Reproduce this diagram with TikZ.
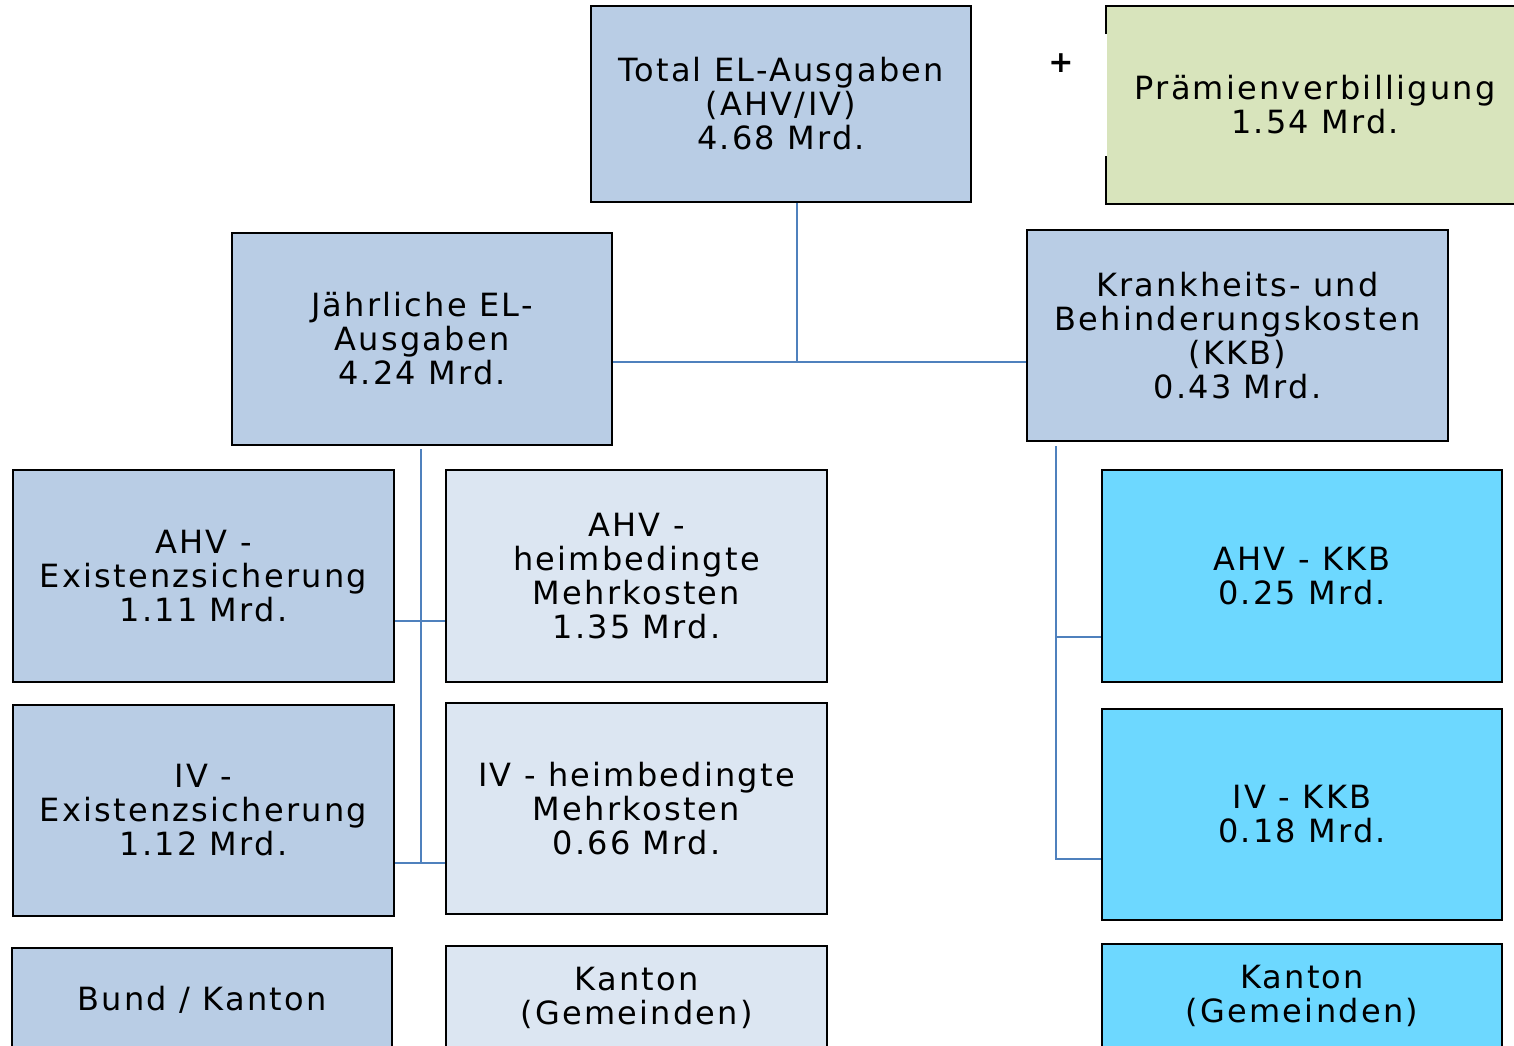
\documentclass[tikz,border=0pt]{standalone}
\usepackage{fontspec}
\usepackage{tikz}
\usetikzlibrary{positioning}
\newfontfamily\boxfont[LetterSpace=7]{DejaVu Sans}
\definecolor{elblue}{HTML}{B9CDE5}
\definecolor{ellight}{HTML}{DCE6F2}
\definecolor{elcyan}{HTML}{6DD8FF}
\definecolor{elgreen}{HTML}{D8E4BC}
\definecolor{elline}{HTML}{4F81BD}

\begin{document}
\begin{tikzpicture}[x=1pt,y=1pt,
 elbox/.style={draw=black,line width=2pt,align=center,inner sep=2pt,
  font=\boxfont\fontsize{32}{34}\selectfont,minimum width=381pt,minimum height=212pt},
 conn/.style={draw=elline,line width=2pt}]
 \useasboundingbox (0,0) rectangle (1514,-1045);
 \node[elbox,fill=elblue,minimum width=380pt,minimum height=196pt] (total) at (781,-104) {Total EL-Ausgaben\\(AHV/IV)\\4.68 Mrd.};
 \node[elbox,fill=elgreen,draw=none,minimum width=416pt,minimum height=196pt] (praemie) at (1315,-105) {Prämienverbilligung\\1.54 Mrd.};
 \draw[line width=2pt] ([yshift=-28pt]praemie.north west) |- (praemie.north east) |- (praemie.south west) -- ([yshift=48pt]praemie.south west);
 \node[font=\boxfont\bfseries\fontsize{30}{34}\selectfont] (plus) at (1061,-63) {+};
 \node[elbox,fill=elblue,minimum width=380pt] (jahr) at (422,-339) {Jährliche EL-\\Ausgaben\\4.24 Mrd.};
 \node[elbox,fill=elblue,minimum width=421pt,minimum height=211pt] (kkb) at (1237.5,-335.5) {Krankheits- und\\Behinderungskosten\\(KKB)\\0.43 Mrd.};
 \node[elbox,fill=elblue] (ahvex) at (203.5,-576) {AHV -\\Existenzsicherung\\1.11 Mrd.};
 \node[elbox,fill=ellight] (ahvheim) at (636.5,-576) {AHV -\\heimbedingte\\Mehrkosten\\1.35 Mrd.};
 \node[elbox,fill=elblue,minimum height=211pt] (ivex) at (203.5,-810.5) {IV -\\Existenzsicherung\\1.12 Mrd.};
 \node[elbox,fill=ellight,minimum height=211pt] (ivheim) at (636.5,-808.5) {IV - heimbedingte\\Mehrkosten\\0.66 Mrd.};
 \node[elbox,fill=elcyan,minimum width=400pt] (ahvkkb) at (1302,-576) {AHV - KKB\\0.25 Mrd.};
 \node[elbox,fill=elcyan,minimum width=400pt,minimum height=211pt] (ivkkb) at (1302,-814.5) {IV - KKB\\0.18 Mrd.};
 \node[elbox,fill=elblue,minimum width=380pt,minimum height=104pt] (bund) at (202,-1000) {Bund / Kanton};
 \node[elbox,fill=ellight,minimum height=104pt] (kanton) at (636.5,-998) {Kanton\\(Gemeinden)};
 \node[elbox,fill=elcyan,minimum width=400pt,minimum height=104pt] (kantonkkb) at (1302,-996) {Kanton\\(Gemeinden)};
 % connectors
 \coordinate (hub) at (797,-362);
 \coordinate (lj1) at (421,-621);
 \coordinate (lj2) at (421,-863);
 \coordinate (rj1) at (1056,-637);
 \coordinate (rj2) at (1056,-859);
 \draw[conn] (hub |- total.south) -- (hub);
 \draw[conn] (jahr.east |- hub) -- (kkb.west |- hub);
 \draw[conn] ([yshift=-3pt]jahr.south -| lj1) -- (lj2);
 \draw[conn] (ahvex.east |- lj1) -- (ahvheim.west |- lj1);
 \draw[conn] (ivex.east |- lj2) -- (ivheim.west |- lj2);
 \draw[conn] ([yshift=-4pt]kkb.south -| rj1) -- (rj2) -- (ivkkb.west |- rj2);
 \draw[conn] (rj1) -- (ahvkkb.west |- rj1);
\end{tikzpicture}
\end{document}
